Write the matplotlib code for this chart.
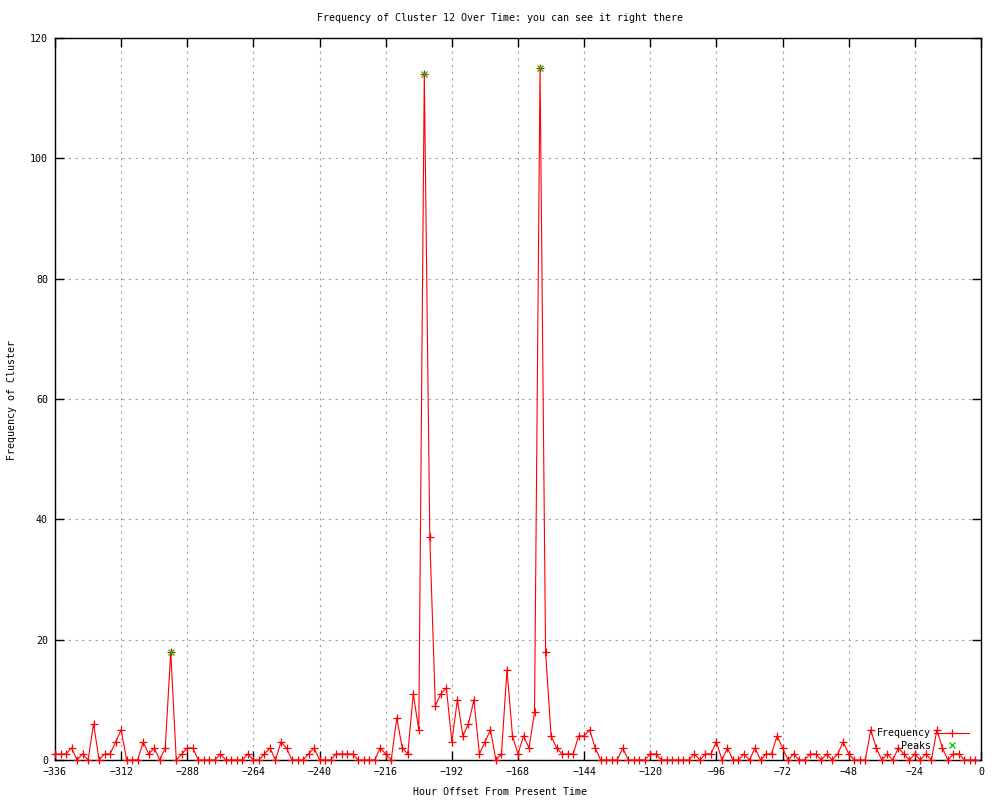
import matplotlib
matplotlib.use("Agg")
import matplotlib.pyplot as plt
from matplotlib.lines import Line2D

# Data: hourly offsets (every 2 hours) and frequency counts
hours = list(range(-336, 0, 2))
freq = [
    1, 1, 1, 2, 0, 1, 0, 6, 0, 1, 1, 3, 5, 0, 0, 0, 3, 1, 2, 0,   # -336 .. -298
    2, 18, 0, 1, 2, 2, 0, 0, 0, 0, 1, 0, 0, 0, 0, 1, 0, 0, 1, 2,  # -296 .. -258
    0, 3, 2, 0, 0, 0, 1, 2, 0, 0, 0, 1, 1, 1, 1, 0, 0, 0, 0, 2,   # -256 .. -218
    1, 0, 7, 2, 1, 11, 5, 114, 37, 9, 11, 12, 3, 10, 4, 6, 10, 1, 3, 5,  # -216 .. -178
    0, 1, 15, 4, 1, 4, 2, 8, 115, 18, 4, 2, 1, 1, 1, 4, 4, 5, 2, 0,    # -176 .. -138
    0, 0, 0, 2, 0, 0, 0, 0, 1, 1, 0, 0, 0, 0, 0, 0, 1, 0, 1, 1,   # -136 .. -98
    3, 0, 2, 0, 0, 1, 0, 2, 0, 1, 1, 4, 2, 0, 1, 0, 0, 1, 1, 0,   # -96 .. -58
    1, 0, 1, 3, 1, 0, 0, 0, 5, 2, 0, 1, 0, 2, 1, 0, 1, 0, 1, 0,   # -56 .. -18
    5, 2, 0, 1, 1, 0, 0, 0,                                       # -16 .. -2
]
peak_hours = [-294, -202, -160]
peak_values = [18, 114, 115]

x_ticks = list(range(-336, 1, 24))
y_ticks = list(range(0, 121, 20))

title = "Frequency of Cluster 12 Over Time: you can see it right there"
xlabel = "Hour Offset From Present Time"
ylabel = "Frequency of Cluster"

FONT = "DejaVu Sans Mono"
FS = 7.2
plt.rcParams["font.family"] = FONT
plt.rcParams["font.size"] = FS

fig = plt.figure(figsize=(10, 8), dpi=100)
ax = fig.add_axes([0.055, 0.05, 0.926, 0.9025])

ax.plot(hours, freq, color="#ff0000", lw=0.8, marker="+", ms=6, mew=0.9,
        clip_on=False, zorder=3, label="Frequency")
ax.plot(peak_hours, peak_values, ls="none", color="#00c000", marker="x", ms=4.5,
        mew=0.9, clip_on=False, zorder=4, label="Peaks")

ax.set_xlim(-336, 0)
ax.set_ylim(0, 120)
ax.set_xticks(x_ticks)
ax.set_yticks(y_ticks)
ax.tick_params(direction="in", length=6.5, width=1.0, top=True, right=True,
               labelsize=FS, pad=5, colors="black")
ax.grid(True, color="#a0a0a0", ls=(0, (2, 4)), lw=0.8)
ax.set_axisbelow(True)
for sp in ax.spines.values():
    sp.set_linewidth(1.0)
    sp.set_color("black")

fig.text(0.5, 1 - 18 / 800, title, ha="center", va="center", fontsize=FS)
fig.text(0.5, 1 - 792 / 800, xlabel, ha="center", va="center", fontsize=FS)
fig.text(12 / 1000, 0.5, ylabel, ha="center", va="center", rotation=90, fontsize=FS)

handles = [
    Line2D([], [], color="#ff0000", lw=0.8, marker="+", ms=6, mew=0.9, markevery=[1]),
    Line2D([], [], color="#00c000", ls="none", marker="x", ms=4.5, mew=0.9),
]
leg = ax.legend(handles, ["Frequency", "Peaks"], loc="lower right",
                bbox_to_anchor=(0.995, 0.003), markerfirst=False, frameon=False,
                fontsize=FS, handlelength=3.5, handletextpad=0.3,
                labelspacing=0.25, borderaxespad=0.3)
for t in leg.get_texts():
    t.set_ha("right")

fig.savefig("out.png", dpi=100)
